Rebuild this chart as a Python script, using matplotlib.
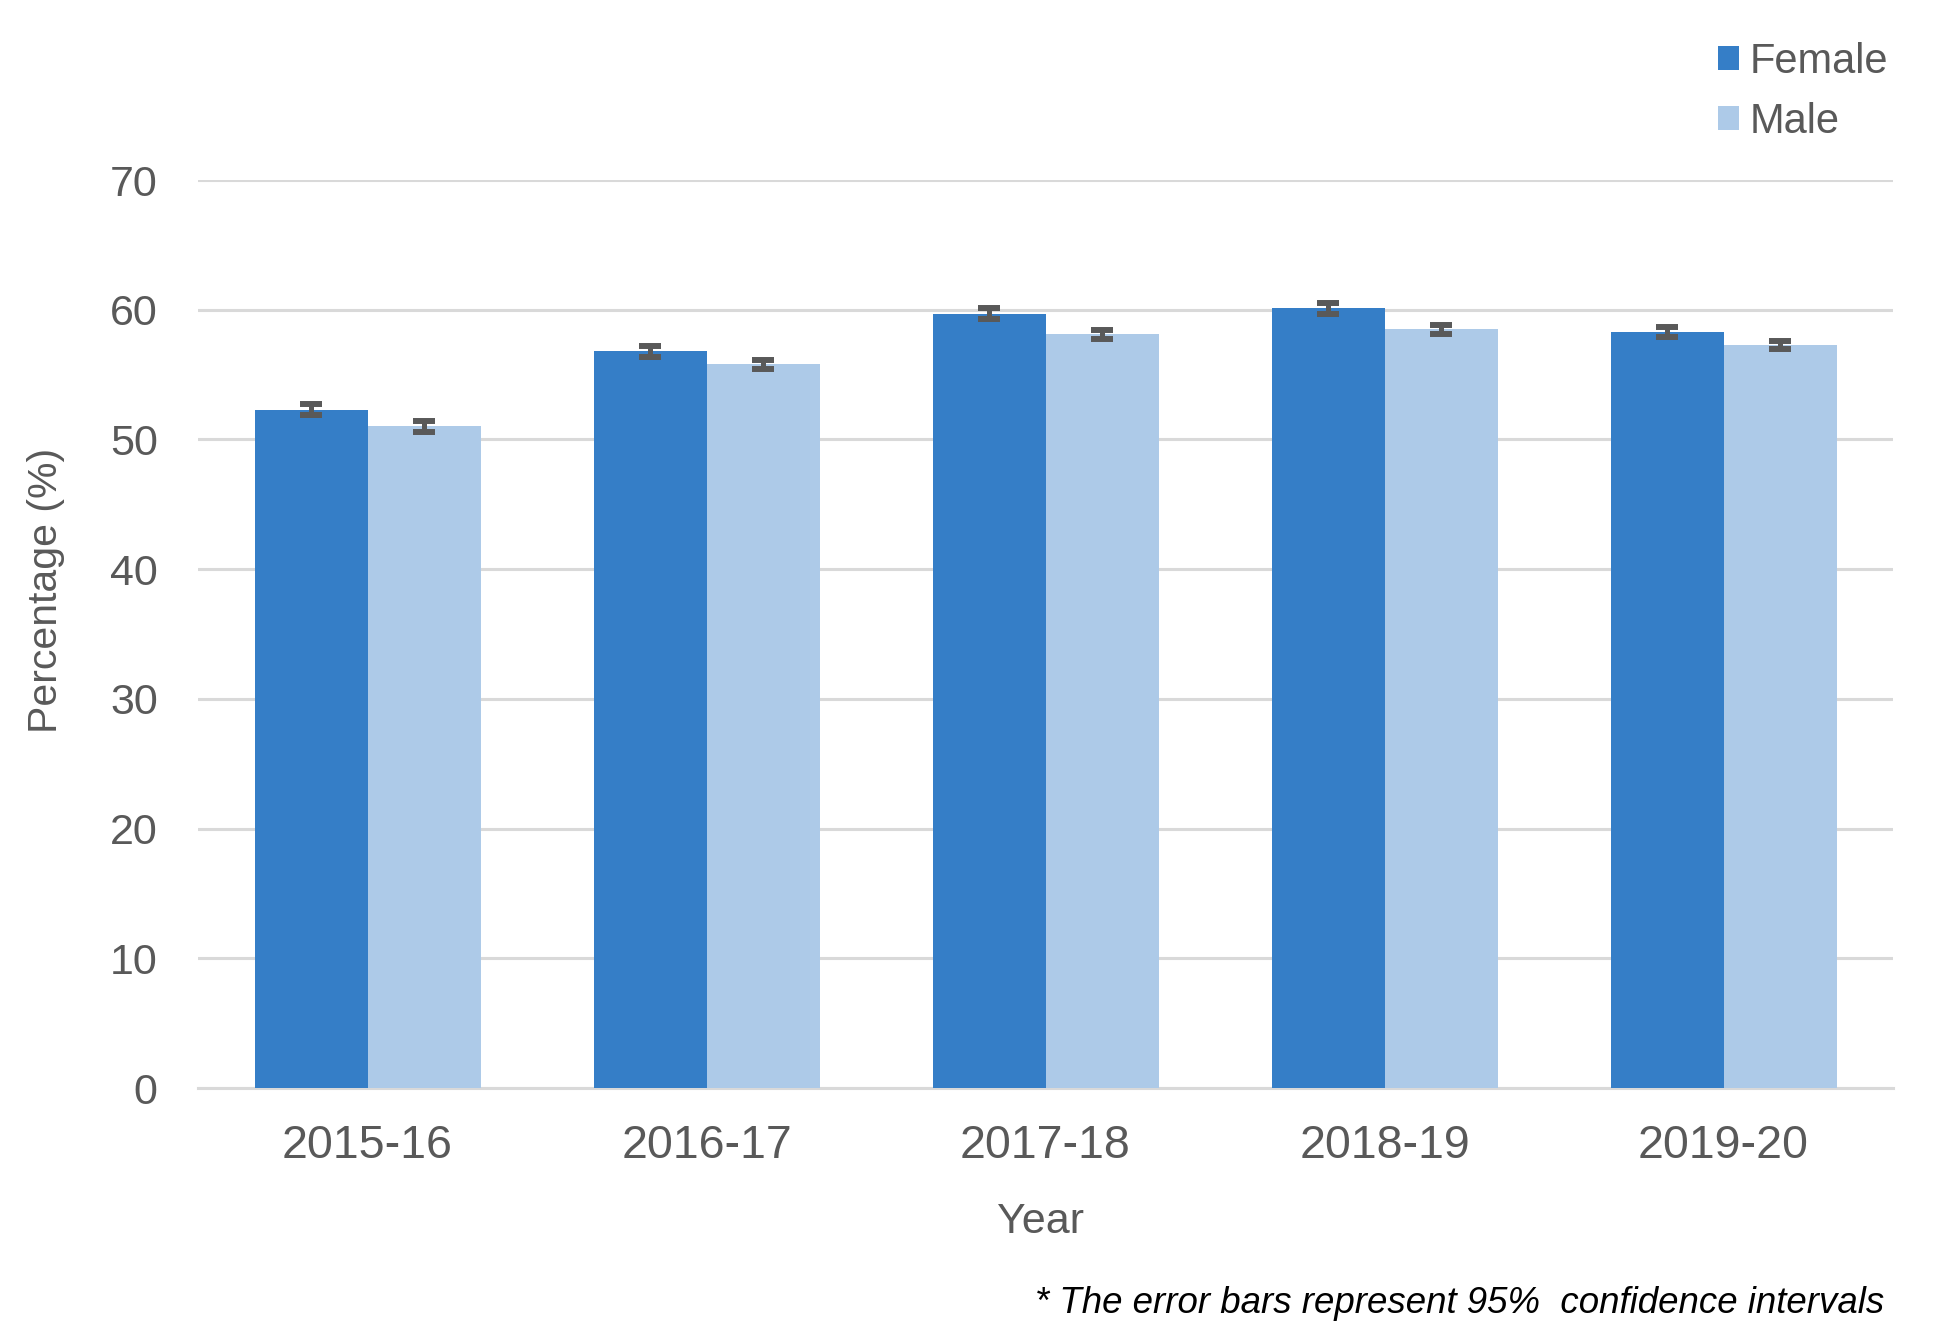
"""Female vs male percentage by year, grouped bars with 95% CI error bars."""

import numpy as np
import matplotlib.pyplot as plt

# Data
years = ['2015-16', '2016-17', '2017-18', '2018-19', '2019-20']
female = [52.3, 56.8, 59.7, 60.1, 58.3]
male = [51.0, 55.8, 58.1, 58.5, 57.3]
female_ci = [0.42, 0.42, 0.42, 0.44, 0.39]
male_ci = [0.40, 0.36, 0.36, 0.36, 0.31]

FEMALE_COLOR = '#357EC7'
MALE_COLOR = '#ADCAE8'
TEXT_COLOR = '#595959'
GRID_COLOR = '#D9D9D9'

plt.rcParams['font.family'] = ['Liberation Sans', 'DejaVu Sans']


def main() -> None:
    fig = plt.figure(figsize=(19.5, 13.25), dpi=100)
    ax = fig.add_axes([198 / 1950, 1 - 1088 / 1325, 1695 / 1950, 908 / 1325])

    x = np.arange(len(years))
    width = 1 / 3
    err_kw = dict(ecolor=TEXT_COLOR, elinewidth=3.6, capsize=7.6, capthick=4.3)

    ax.bar(x - width / 2, female, width, color=FEMALE_COLOR, label='Female',
           yerr=female_ci, error_kw=err_kw, zorder=3)
    ax.bar(x + width / 2, male, width, color=MALE_COLOR, label='Male',
           yerr=male_ci, error_kw=err_kw, zorder=3)

    ax.set_xlim(-0.5, len(years) - 0.5)
    ax.set_ylim(0, 70)
    ax.set_yticks(range(0, 71, 10))
    ax.set_xticks(x)
    ax.set_xticklabels(years)

    ax.grid(axis='y', color=GRID_COLOR, linewidth=2.2, zorder=0)
    ax.set_axisbelow(True)
    for side in ['top', 'right', 'left']:
        ax.spines[side].set_visible(False)
    ax.spines['bottom'].set_color(GRID_COLOR)
    ax.spines['bottom'].set_linewidth(2.2)

    ax.tick_params(axis='both', length=0, labelcolor=TEXT_COLOR)
    ax.tick_params(axis='y', pad=29, labelsize=31)
    ax.tick_params(axis='x', pad=26, labelsize=33.5)

    fig.text(46 / 1950, 1 - 590 / 1325, 'Percentage (%)', rotation=90,
             ha='center', va='center', fontsize=29.5, color=TEXT_COLOR)
    fig.text(1041 / 1950, 1 - 1222 / 1325, 'Year', ha='center', va='center',
             fontsize=31, color=TEXT_COLOR)
    fig.text(1884 / 1950, 1 - 1313 / 1325,
             '* The error bars represent 95%  confidence intervals',
             ha='right', va='baseline', fontsize=26.4, style='italic',
             color='black')

    handles, labels = ax.get_legend_handles_labels()
    fig.legend(handles, labels, loc='upper left',
               bbox_to_anchor=(1718 / 1950, 1 - 42 / 1325),
               frameon=False, fontsize=30, labelcolor=TEXT_COLOR,
               handlelength=0.5, handleheight=0.5, handletextpad=0.27,
               labelspacing=0.47, borderpad=0, borderaxespad=0)

    fig.savefig('out.png', dpi=100)


if __name__ == '__main__':
    main()
